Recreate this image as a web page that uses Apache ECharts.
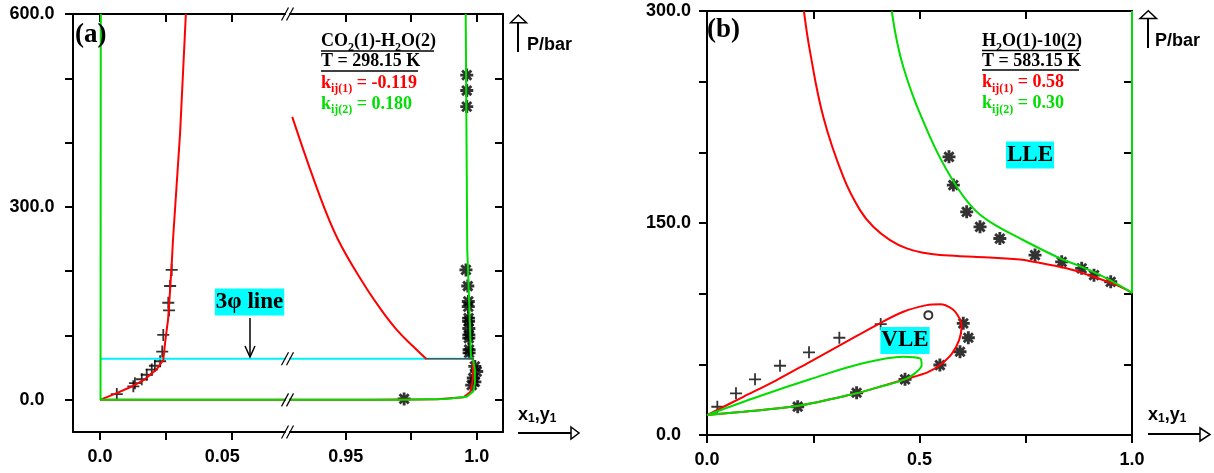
<!DOCTYPE html>
<html><head><meta charset="utf-8">
<script src="https://cdn.jsdelivr.net/npm/echarts@6/dist/echarts.min.js"></script>
<style>html,body{margin:0;padding:0;background:#fff}#c{width:1214px;height:473px}</style>
</head><body><div id="c"></div>
<script>
// ---------------- Panel (a): CO2(1)-H2O(2), T = 298.15 K ----------------
const aRedWaterRich = [[0,0],[0.0057,9.3],[0.0121,20.7],[0.0171,32],[0.0216,47.7],[0.0241,62],[0.0248,89],[0.0254,109],[0.0259,124],[0.0267,171],[0.0274,218],[0.0278,249],[0.0305,415],[0.0327,600]];
const aRedCO2Rich = [[0.9296,440],[0.9402,316],[0.9471,249],[0.9566,182],[0.9631,142.5],[0.9695,108.8],[0.9758,82.9],[0.9809,63]];
const aRedVapor = [[0.9985,64],[0.9986,50],[0.9985,35],[0.9983,25],[0.9975,12],[0.995,4],[0.985,1],[0.96,0.2],[0,0]];
const aGreen = [[0.0003,600],[0.0002,0],[0.9714,0],[0.9879,1.5],[0.9962,5],[0.9987,13],[0.9993,26],[0.9993,47],[0.9987,61],[0.9978,67],[0.9971,155],[0.9964,233],[0.9958,600]];
const aThreePhase = [[0,64],[0.999,64]];
const aTieDark = [[0.9809,64],[0.999,64]];
const aCrosses = [[0.0273,202],[0.0267,177],[0.0260,151],[0.0263,139],[0.0241,101],[0.0237,75],[0.0229,60],[0.0209,53],[0.0197,47],[0.0178,39],[0.0159,32],[0.0133,26],[0.0127,21],[0.0064,9]];
const aStars = [[0.9962,505],[0.9962,481],[0.9962,456],[0.9959,202],[0.9966,177],[0.9968,153],[0.9968,145],[0.9969,127],[0.9969,122],[0.9970,111],[0.9970,101],[0.9970,96],[0.9971,78],[0.9971,73],[0.9993,52],[1.0,44],[0.9987,34],[0.9993,28],[0.9981,23],[0.9723,1.5]];
const aYTicks = [0,100,200,300,400,500,600];
const aYLabels = [0,300,600];
const aXLeftTicks = [0,0.025,0.05];
const aXLeftLabelVals = [0,0.05];
const aXLeftLabelText = ['0.0','0.05'];
const aXRightTicks = [0.95,0.975,1.0];
const aXRightLabelVals = [0.95,1.0];
const aXRightLabelText = ['0.95','1.0'];

// ---------------- Panel (b): H2O(1)-10(2), T = 583.15 K ----------------
const bRedLLE = [[0.228,300],[0.242,272],[0.2737,225],[0.3207,182.6],[0.36,159.1],[0.3913,147.3],[0.4306,137.9],[0.4699,132.0],[0.5089,128.9],[0.5482,127.3],[0.6266,126.1],[0.7365,124.2],[0.768,122.6],[0.846,118],[0.909,112],[0.964,106],[1.0,100.6]];
const bGreenLLE = [[0.4346,300],[0.4619,260.4],[0.5247,211.0],[0.5795,179.6],[0.6266,160.3],[0.6659,150.8],[0.7365,139.1],[0.8306,125.0],[0.8816,119.0],[0.9405,110.8],[1.0,100.6],[1.0,300]];
const bRedVLE = [[0,14.1],[0.0855,27],[0.164,38.9],[0.2424,51.8],[0.3208,64.8],[0.399,77.8],[0.462,87.2],[0.517,91.9],[0.548,92.6],[0.578,89],[0.595,82],[0.599,76.6],[0.593,67],[0.575,57],[0.548,49.5],[0.52,44.5],[0.466,39.4],[0.40,33.5],[0.352,29.5],[0.211,20.5],[0.0855,16.5],[0,14.1]];
const bGreenVLE = [[0,14.1],[0.1247,27.6],[0.2424,39.4],[0.36,50.2],[0.462,55.4],[0.501,54.2],[0.505,49.5],[0.489,43.6],[0.466,39.4],[0.40,33.5],[0.352,29.5],[0.211,20.5],[0.0855,16.5],[0,14.1]];
const bCrosses = [[0.0243,20],[0.0682,29.5],[0.113,39.4],[0.1718,49],[0.24,58.5],[0.3114,68.8],[0.4087,78.5]];
const bCircles = [[0.5208,84.8]];
const bStars = [[0.2134,20],[0.352,29.9],[0.466,39.4],[0.548,49.5],[0.5953,58.9],[0.6149,68.8],[0.603,79],[0.5694,196.8],[0.5796,176.8],[0.611,157.9],[0.6424,147.3],[0.689,139],[0.7718,127.3],[0.8346,122.5],[0.8816,117.9],[0.9106,113.1],[0.9499,108.4]];
const bYTicks = [0,50,100,150,200,250,300];
const bYLabels = [0,150,300];
const bXTicks = [0,0.25,0.5,0.75,1.0];
const bXLabelVals = [0,0.5,1.0];
const bXLabelText = ['0.0','0.5','1.0'];

// ---------------- styling ----------------
const SANS = 'Liberation Sans', SERIF = 'Liberation Serif';
const RED = '#ff0000', GREEN = '#00dd00', CYAN = '#00f0ff';
const LW = 2;

function starPath(){
  let p = '';
  const L = 10, w = 2.2;
  for (let k = 0; k < 4; k++){
    const a = k*Math.PI/4, c = Math.cos(a), s = Math.sin(a);
    const pts = [[L*c - w*s, L*s + w*c],[L*c + w*s, L*s - w*c],[-L*c + w*s, -L*s - w*c],[-L*c - w*s, -L*s + w*c]];
    p += 'M' + pts.map(q => q[0].toFixed(2)+','+q[1].toFixed(2)).join('L') + 'Z ';
  }
  return 'path://' + p;
}
const SYM_STAR = starPath();
const SYM_CROSS = 'path://M-10,-1.5L10,-1.5L10,1.5L-10,1.5Z M-1.5,-10L1.5,-10L1.5,10L-1.5,10Z';

const labelFont = {fontFamily: SANS, fontWeight: 'bold', fontSize: 18, color: '#000'};
function mapFmt(vals, texts){
  return function(v){
    const i = vals.findIndex(t => Math.abs(t - v) < 1e-9);
    if (i < 0) return '';
    return texts[i] === '0.05' ? '{o|0.05}' : texts[i];
  };
}
function valueAxis(o){
  const ax = {
    type: 'value', gridIndex: o.grid, position: o.pos, min: o.min, max: o.max,
    axisLine: {show: true, onZero: false, lineStyle: {color: '#000', width: 2}},
    axisTick: {show: true, inside: !!o.inside, length: 8, customValues: o.ticks, lineStyle: {color: '#000', width: 2}},
    splitLine: {show: false}, minorTick: {show: false}, splitArea: {show: false}
  };
  if (o.labels){
    ax.axisLabel = Object.assign({show: true, customValues: o.labels, formatter: o.fmt, margin: o.margin,
      rich: {o: Object.assign({padding: [0, 18, 0, 0]}, labelFont)}}, labelFont);
    if (o.align) ax.axisLabel.align = o.align;
  } else {
    ax.axisLabel = {show: false};
  }
  return ax;
}

const A_L_MIN = -0.01028, A_L_MAX = 0.07045;
const A_R_MIN = 0.92874, A_R_MAX = 1.01004;

const xAxes = [
  valueAxis({grid:0, pos:'bottom', min:A_L_MIN, max:A_L_MAX, ticks:aXLeftTicks, labels:aXLeftLabelVals, fmt:mapFmt(aXLeftLabelVals,aXLeftLabelText), margin:16}),
  valueAxis({grid:0, pos:'top', min:A_L_MIN, max:A_L_MAX, ticks:aXLeftTicks, inside:true}),
  valueAxis({grid:1, pos:'bottom', min:A_R_MIN, max:A_R_MAX, ticks:aXRightTicks, labels:aXRightLabelVals, fmt:mapFmt(aXRightLabelVals,aXRightLabelText), margin:16}),
  valueAxis({grid:1, pos:'top', min:A_R_MIN, max:A_R_MAX, ticks:aXRightTicks, inside:true}),
  valueAxis({grid:2, pos:'bottom', min:0, max:1, ticks:bXTicks, labels:bXLabelVals, fmt:mapFmt(bXLabelVals,bXLabelText), margin:16}),
  valueAxis({grid:2, pos:'top', min:0, max:1, ticks:bXTicks, inside:true})
];
const yAxes = [
  valueAxis({grid:0, pos:'left', min:-50, max:600, ticks:aYTicks, labels:aYLabels, fmt:v=>v.toFixed(1), margin:41, align:'center'}),
  valueAxis({grid:1, pos:'right', min:-50, max:600, ticks:aYTicks, inside:true}),
  valueAxis({grid:2, pos:'left', min:0, max:300, ticks:bYTicks, labels:bYLabels, fmt:v=>v.toFixed(1), margin:38.5, align:'center'}),
  valueAxis({grid:2, pos:'right', min:0, max:300, ticks:bYTicks, inside:true})
];

function lineS(data, color, xi, yi, z, width){
  return {type:'line', data, xAxisIndex:xi, yAxisIndex:yi, symbol:'none', showSymbol:false,
    lineStyle:{color, width: width || LW}, itemStyle:{color}, z: z || 3, silent:true, animation:false, clip:true};
}
function scatS(data, sym, size, xi, yi, extra){
  return Object.assign({type:'scatter', data, xAxisIndex:xi, yAxisIndex:yi, symbol:sym, symbolSize:size,
    itemStyle:{color:'#000'}, z:2, silent:true, animation:false, clip:true}, extra || {});
}

const series = [];
[[0,0],[2,1]].forEach(([xi, yi]) => {
  series.push(scatS(aCrosses, SYM_CROSS, 12, xi, yi));
  series.push(scatS(aStars, SYM_STAR, 13, xi, yi));
  series.push(lineS(aThreePhase, CYAN, xi, yi, 3));
  series.push(lineS(aRedVapor, RED, xi, yi, 4));
  series.push(lineS(aRedWaterRich, RED, xi, yi, 4));
  series.push(Object.assign(lineS(aRedCO2Rich, RED, xi, yi, 4), {smooth: 0.4}));
  series.push(lineS(aGreen, GREEN, xi, yi, 5));
  series.push(lineS(aTieDark, '#555555', xi, yi, 6, 1.6));
});
series.push(scatS(bCrosses, SYM_CROSS, 12, 4, 2));
series.push(scatS(bStars, SYM_STAR, 13, 4, 2));
series.push(scatS(bCircles, 'emptyCircle', 8, 4, 2, {itemStyle:{color:'#000', borderColor:'#000', borderWidth:1.5}}));
series.push(Object.assign(lineS(bRedLLE, RED, 4, 2, 4), {smooth: 0.4}));
series.push(Object.assign(lineS(bGreenLLE, GREEN, 4, 2, 5), {smooth: 0.4}));
series.push(Object.assign(lineS(bRedVLE, RED, 4, 2, 4), {smooth: 0.35}));
series.push(Object.assign(lineS(bGreenVLE, GREEN, 4, 2, 5), {smooth: 0.35}));

const chart = echarts.init(document.getElementById('c'), null, {renderer:'canvas'});
chart.setOption({
  animation: false,
  backgroundColor: '#fff',
  grid: [
    {left:73, top:14, width:212, height:418, containLabel:false, outerBoundsMode:'none'},
    {left:290, top:14, width:213, height:418, containLabel:false, outerBoundsMode:'none'},
    {left:707, top:11, width:425, height:424, containLabel:false, outerBoundsMode:'none'}
  ],
  xAxis: xAxes,
  yAxis: yAxes,
  series: series
});

// ---------------- annotations ----------------
function richAnno(x, y, text, color){
  const m = {fontFamily:SERIF, fontWeight:'bold', fontSize:18, lineHeight:24, fill:color};
  const s = {fontFamily:SERIF, fontWeight:'bold', fontSize:12, lineHeight:12, verticalAlign:'bottom', fill:color};
  return {type:'text', x, y, z:100, silent:true,
    style:{text, rich:{m, s}, align:'left', verticalAlign:'middle', textAlign:'left', textVerticalAlign:'middle'}};
}
function plainText(x, y, text, font, extra){
  return {type:'text', x, y, z:100, silent:true,
    style:Object.assign({text, align:'left', verticalAlign:'middle', textAlign:'left', textVerticalAlign:'middle'}, font, extra || {})};
}
function seg(x1, y1, x2, y2, w){
  return {type:'line', z:100, silent:true, shape:{x1, y1, x2, y2}, style:{stroke:'#000', lineWidth:w || 1.5}};
}
function box(cx, cy, text){
  return {type:'text', x:cx, y:cy, z:100, silent:true,
    style:{text, fontFamily:SERIF, fontWeight:'bold', fontSize:23, lineHeight:24, fill:'#000',
      backgroundColor:'#00ffff', padding:[2,1,1,1], align:'center', verticalAlign:'middle', textAlign:'center', textVerticalAlign:'middle'}};
}
function triangle(points){
  return {type:'polygon', z:100, silent:true, shape:{points}, style:{fill:'#fff', stroke:'#000', lineWidth:1.5}};
}
const sansB = {fontFamily:SANS, fontWeight:'bold', fontSize:18, fill:'#000'};
const axRich = {
  b:{fontFamily:SANS, fontWeight:'bold', fontSize:18, lineHeight:20, fill:'#000'},
  s:{fontFamily:SANS, fontWeight:'bold', fontSize:12, lineHeight:11, verticalAlign:'bottom', fill:'#000'}
};

const g = [];
g.push(plainText(75, 35, '(a)', {fontFamily:SERIF, fontWeight:'bold', fontSize:27, fill:'#000'}));
g.push(plainText(707, 30, '(b)', {fontFamily:SERIF, fontWeight:'bold', fontSize:27, fill:'#000'}));
g.push(richAnno(321, 41.5, '{m|CO}{s|2}{m|(1)-H}{s|2}{m|O(2)}', '#000'));
g.push(richAnno(321, 61.5, '{m|T = 298.15 K}', '#000'));
g.push(richAnno(321, 83, '{m|k}{s|ij(1)}{m| = -0.119}', RED));
g.push(richAnno(321, 104, '{m|k}{s|ij(2)}{m| = 0.180}', GREEN));
g.push(seg(321, 51, 434, 51, 1.5));
g.push(seg(321, 71, 418, 71, 1.5));
g.push(richAnno(982, 41.5, '{m|H}{s|2}{m|O(1)-10(2)}', '#000'));
g.push(richAnno(982, 61.5, '{m|T = 583.15 K}', '#000'));
g.push(richAnno(982, 82.5, '{m|k}{s|ij(1)}{m| = 0.58}', RED));
g.push(richAnno(982, 103.5, '{m|k}{s|ij(2)}{m| = 0.30}', GREEN));
g.push(seg(982, 50.5, 1079, 50.5, 1.5));
g.push(seg(982, 70, 1079, 70, 1.5));
g.push(box(249.5, 302, '3\u03c6 line'));
g.push(box(1030, 155, 'LLE'));
g.push(box(905, 340.5, 'VLE'));
g.push(seg(250, 318, 250, 356, 1.5));
g.push({type:'polyline', z:100, silent:true, shape:{points:[[245,346],[250,357],[255,346]]}, style:{stroke:'#000', lineWidth:1.5, fill:null}});
g.push(seg(518, 22, 518, 52, 2));
g.push(triangle([[510.5,22.7],[518.3,15],[526.5,22.7]]));
g.push(plainText(527, 45, 'P/bar', sansB));
g.push(seg(518, 433, 571, 433, 2));
g.push(triangle([[571,427],[579,433],[571,439]]));
g.push({type:'text', x:518, y:415, z:100, silent:true, style:{text:'{b|x}{s|1}{b|,y}{s|1}', rich:axRich, align:'left', verticalAlign:'middle', textAlign:'left', textVerticalAlign:'middle'}});
g.push(seg(1148, 18, 1148, 48, 2));
g.push(triangle([[1140,18.5],[1148.3,10.7],[1156.5,18.5]]));
g.push(plainText(1155, 41, 'P/bar', sansB));
g.push(seg(1148, 434, 1200, 434, 2));
g.push(triangle([[1200,428],[1210,434.5],[1200,441]]));
g.push({type:'text', x:1148, y:415, z:100, silent:true, style:{text:'{b|x}{s|1}{b|,y}{s|1}', rich:axRich, align:'left', verticalAlign:'middle', textAlign:'left', textVerticalAlign:'middle'}});

// axis-break marks at the gap between the two halves of panel (a)
const breakLevels = [600, aThreePhase[0][1], 0, -50];
const leftEnd = chart.convertToPixel({xAxisIndex:0}, A_L_MAX);
const rightStart = chart.convertToPixel({xAxisIndex:2}, A_R_MIN);
breakLevels.forEach(v => {
  const y = chart.convertToPixel({yAxisIndex:0}, v);
  [leftEnd, rightStart].forEach(cx => g.push(seg(cx - 3.5, y + 6.5, cx + 3.5, y - 6.5, 1.2)));
});

chart.setOption({graphic: {elements: g}});
</script>
</body></html>
